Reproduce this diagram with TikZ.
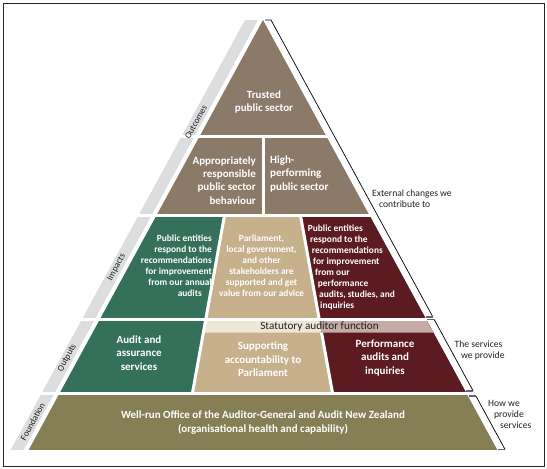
\documentclass[tikz,border=0pt]{standalone}
\usepackage{fontspec}
\setmainfont{Carlito}
\usepackage{tikz}
\usetikzlibrary{positioning, calc}
\usepackage{xcolor}
\definecolor{outcomebrown}{HTML}{8B7A68}
\definecolor{auditgreen}{HTML}{34705A}
\definecolor{advicetan}{HTML}{C7B18D}
\definecolor{perfmaroon}{HTML}{5B1B21}
\definecolor{foundolive}{HTML}{867F55}
\definecolor{bandcream}{HTML}{EFE6D6}
\definecolor{bandpink}{HTML}{C4ABA3}
\definecolor{sideband}{HTML}{DCDDDF}
\definecolor{labelink}{HTML}{231F20}

\begin{document}
\begin{tikzpicture}[x=1pt, y=-1pt,
    bigtext/.style={text=white, inner sep=0pt, align=center,
        font=\fontsize{11}{13.2}\selectfont\bfseries},
    smalltext/.style={text=white, inner sep=0pt,
        font=\fontsize{9.4}{11.1}\selectfont\bfseries},
    sidelabel/.style={text=labelink, inner sep=0pt, rotate=61.4,
        font=\fontsize{9}{10}\selectfont},
    sidenote/.style={text=labelink, inner sep=0pt, align=left, anchor=north west,
        font=\fontsize{9.6}{10.8}\selectfont},
    gapline/.style={white, line width=3pt},
    bracketline/.style={black, line width=0.7pt},
    bracketend/.style={black!60, line width=1.3pt}]
    \useasboundingbox (0,0) rectangle (547,469);
    \draw[black!85, line width=0.8pt] (3,3) rectangle (544,466);

    \coordinate (apex) at (263,20);
    \coordinate (baseL) at (28.65,450);
    \coordinate (baseR) at (497.35,450);

    % pyramid layers
    \begin{scope}
        \clip (apex) -- (baseR) -- (baseL) -- cycle;
        \fill[outcomebrown] (0,0) rectangle (547,216);
        \fill[auditgreen] (0,216) rectangle (547,394);
        \fill[advicetan] (224.4,216) -- (300.6,216) -- (332.7,394) -- (192.3,394) -- cycle;
        \fill[perfmaroon] (300.6,216) -- (547,216) -- (547,394) -- (332.7,394) -- cycle;
        \fill[bandcream] (205.55,320.5) -- (319.45,320.5) -- (321.6,332.7) -- (203.4,332.7) -- cycle;
        \fill[bandpink] (319.45,320.5) -- (547,320.5) -- (547,332.7) -- (321.6,332.7) -- cycle;
        \fill[foundolive] (0,394) rectangle (547,450);
        \draw[gapline] (263,136) -- (263,216);
        \draw[gapline] (224.4,216) -- (192.3,394);
        \draw[gapline] (300.6,216) -- (319.45,320.5);
        \draw[gapline] (321.6,332.7) -- (332.7,394);
    \end{scope}

    % grey strip on the left
    \fill[sideband] (245,20) -- (258,20) -- (23.65,450) -- (10.65,450) -- cycle;
    \foreach \gy in {136.2, 215.8, 319.3, 393.8}
        \draw[gapline] (5,\gy) -- (540,\gy);

    % brackets on the right
    \coordinate (B1a) at (265,20);
    \coordinate (B1b) at (271,20);
    \coordinate (B1c) at (432.9,317);
    \coordinate (B1d) at (426,317);
    \draw[bracketline] (B1a) -- (B1b) -- (B1c);
    \draw[bracketend] (B1c) -- (B1d);

    \coordinate (B2a) at (427,319.5);
    \coordinate (B2b) at (434.2,319.5);
    \coordinate (B2c) at (473.2,391);
    \coordinate (B2d) at (466,391);
    \draw[bracketend] (B2a) -- (B2b);
    \draw[bracketline] (B2b) -- (B2c);
    \draw[bracketend] (B2c) -- (B2d);

    \coordinate (B3a) at (469,396);
    \coordinate (B3b) at (475.9,396);
    \coordinate (B3c) at (505.1,449.5);
    \coordinate (B3d) at (498,449.5);
    \draw[bracketend] (B3a) -- (B3b);
    \draw[bracketline] (B3b) -- (B3c);
    \draw[bracketend] (B3c) -- (B3d);

    % texts in the pyramid
    \node[bigtext] (trusted) at (264,102) {Trusted\\public sector};
    \node[bigtext, align=right, anchor=east] (approp) at (256,180.5)
        {Appropriately\\responsible\\public sector\\behaviour};
    \node[bigtext, align=left, anchor=west] (highperf) at (270,174)
        {High-\\performing\\public sector};

    \node[smalltext, align=right, anchor=east] (impgreen) at (212,265.5)
        {Public entities\\respond to the\hspace*{2pt}\\recommendations\hspace*{4pt}\\
         for improvement\hspace*{6pt}\\from our annual\hspace*{8pt}\\audits\hspace*{10pt}};
    \node[smalltext, align=center] (imptan) at (261.5,265.5)
        {Parliament,\\local government,\\and other\\stakeholders are\\supported and get\\value from our advice};
    \node[smalltext, align=left, anchor=west] (impmaroon) at (307.7,267.4)
        {Public entities\\\hspace*{2.3pt}respond to the\\\hspace*{4pt}recommendations\\
         \hspace*{5.3pt}for improvement\\\hspace*{7.3pt}from our\\\hspace*{10pt}performance\\
         \hspace*{11.3pt}audits, studies, and\\\hspace*{12.3pt}inquiries};

    \node[text=labelink, inner sep=0pt, font=\fontsize{11.2}{13}\selectfont] (statutory)
        at (319.5,326.5) {Statutory auditor function};

    \node[bigtext] (outgreen) at (139,353) {Audit and\\assurance\\services};
    \node[bigtext] (outtan) at (263,359.3) {Supporting\\accountability to\\Parliament};
    \node[bigtext] (outmaroon) at (385,358) {Performance\\audits and\\inquiries};

    \node[bigtext] (foundation) at (263,422.5)
        {Well-run Office of the Auditor-General and Audit New Zealand\\(organisational health and capability)};

    % labels on the grey strip
    \node[sidelabel] (lbloutcomes) at (195.9,122) {Outcomes};
    \node[sidelabel] (lblimpacts) at (116.6,267.5) {Impacts};
    \node[sidelabel] (lbloutputs) at (67.3,358) {Outputs};
    \node[sidelabel] (lblfoundation) at (32.6,421.7) {Foundation};

    % notes beside the brackets
    \node[sidenote] (extnote) at (372,189.4) {External changes we\\\hspace*{7pt}contribute to};
    \node[sidenote] (servnote) at (454.5,340.9) {The services\\\hspace*{6.5pt}we provide};
    \node[sidenote] (hownote) at (488,400.4) {How we\\\hspace*{6pt}provide\\\hspace*{12pt}services};
\end{tikzpicture}
\end{document}
